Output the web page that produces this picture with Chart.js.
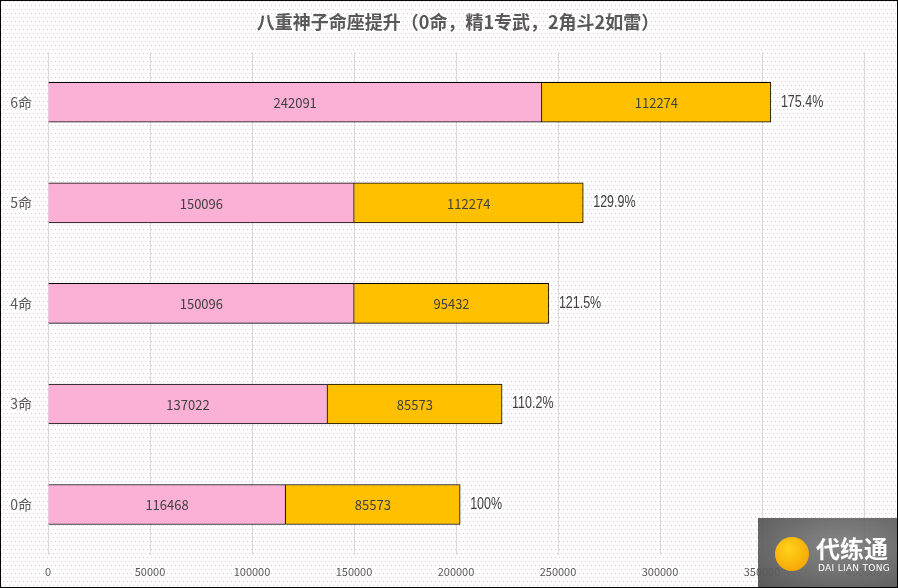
<!DOCTYPE html>
<html>
<head>
<meta charset="utf-8">
<script src="https://cdn.jsdelivr.net/npm/chart.js@4/dist/chart.umd.min.js"></script>
<style>
  html, body { margin: 0; padding: 0; }
  #wrap { position: relative; width: 898px; height: 588px; background: #fff; overflow: hidden; }
  #wrap::after { content: ''; position: absolute; inset: 0; border: 1px solid #000; pointer-events: none; }
  #chart { position: absolute; left: 0; top: 0; }
  .wm { position: absolute; left: 758px; top: 518px; width: 140px; height: 70px;
        background: radial-gradient(ellipse at 60% 40%, rgba(125,125,125,0.92), rgba(75,75,75,0.92)); }
  .wm .logo { position: absolute; left: 17px; top: 19px; width: 34px; height: 34px; border-radius: 50%;
        background: radial-gradient(circle at 40% 35%, #ffd21a, #f39a00); }
  .wm .cn { position: absolute; left: 58px; top: 12px; color: #fff; font: bold 24px "Noto Sans CJK SC", sans-serif; white-space: nowrap; }
  .wm .en { position: absolute; left: 60px; top: 45px; color: #fff; font: 9px "DejaVu Sans", sans-serif; white-space: nowrap; letter-spacing: 0.3px; }
</style>
</head>
<body>
<div id="wrap">
  <canvas id="chart" width="898" height="588"></canvas>
  <div class="wm"><div class="logo"></div><div class="cn">代练通</div><div class="en">DAI LIAN TONG</div></div>
</div>
<script>
const categories = ['6命', '5命', '4命', '3命', '0命'];
const baseDamage  = [242091, 150096, 150096, 137022, 116468];
const extraDamage = [112274, 112274, 95432, 85573, 85573];
const pctLabels   = ['175.4%', '129.9%', '121.5%', '110.2%', '100%'];
const xTicks      = [0, 50000, 100000, 150000, 200000, 250000, 300000, 350000, 400000];
const titleText   = '八重神子命座提升（0命，精1专武，2角斗2如雷）';

// dotted background
(function () {
  const t = document.createElement('canvas'); t.width = 4; t.height = 8;
  const c = t.getContext('2d');
  c.fillStyle = '#e9c3cf';
  c.fillRect(1, 1, 1, 1); c.fillRect(3, 5, 1, 1);
  document.getElementById('wrap').style.backgroundImage = `url(${t.toDataURL()})`;
})();

const CN = '"Noto Sans CJK SC", "Noto Sans", sans-serif';

const labelsPlugin = {
  id: 'labelsPlugin',
  afterDatasetsDraw(chart) {
    const { ctx } = chart;
    ctx.save();
    ctx.textBaseline = 'middle';

    // title
    ctx.fillStyle = '#595959';
    ctx.font = `bold 18px ${CN}`;
    ctx.textAlign = 'center';
    ctx.fillText(titleText, 458, 22);

    // segment values
    ctx.fillStyle = '#404040';
    ctx.font = `13px ${CN}`;
    chart.data.datasets.forEach((ds, di) => {
      chart.getDatasetMeta(di).data.forEach((bar, i) => {
        ctx.fillText(ds.data[i], (bar.x + bar.base) / 2, bar.y + 1);
      });
    });

    // percent after each bar, narrow
    ctx.font = '16px "Liberation Sans", sans-serif';
    ctx.textAlign = 'left';
    chart.getDatasetMeta(1).data.forEach((bar, i) => {
      ctx.save();
      ctx.translate(bar.x + 10, bar.y);
      ctx.scale(0.78, 1);
      ctx.fillText(pctLabels[i], 0, 0);
      ctx.restore();
    });
    ctx.restore();
  }
};

new Chart(document.getElementById('chart'), {
  type: 'bar',
  data: {
    labels: categories,
    datasets: [
      { data: baseDamage,  backgroundColor: '#fbb1d6', borderColor: '#000', borderWidth: 1, barThickness: 40 },
      { data: extraDamage, backgroundColor: '#ffc000', borderColor: '#000', borderWidth: 1, barThickness: 40 }
    ]
  },
  options: {
    indexAxis: 'y',
    responsive: false, animation: false,
    layout: { padding: { left: 0, right: 34, top: 52, bottom: 0 } },
    plugins: {
      legend: { display: false },
      tooltip: { enabled: false },
      title: { display: false }
    },
    scales: {
      x: {
        stacked: true, min: 0, max: 400000,
        afterBuildTicks: ax => { ax.ticks = xTicks.map(v => ({ value: v })); },
        grid: { color: '#d9d9d9', drawTicks: false },
        border: { display: false },
        ticks: { color: '#595959', font: { family: CN, size: 11 }, padding: 10, maxRotation: 0,
                 callback: v => String(v) }
      },
      y: {
        stacked: true,
        afterFit: ax => { ax.width = 48; },
        grid: { display: false, drawTicks: false },
        border: { display: false },
        ticks: { color: '#595959', font: { family: CN, size: 14 }, padding: 16 }
      }
    }
  },
  plugins: [labelsPlugin]
});
</script>
</body>
</html>
